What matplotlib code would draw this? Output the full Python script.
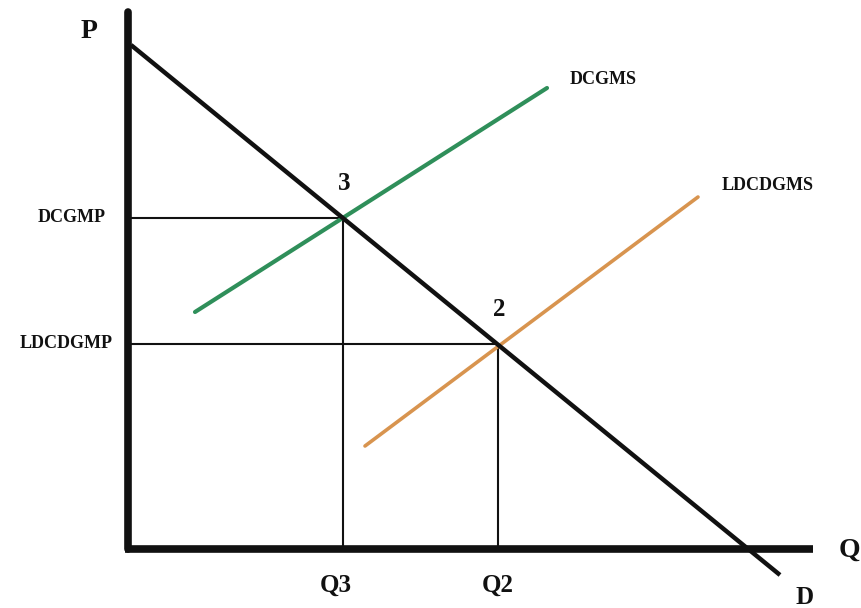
import matplotlib
matplotlib.use('Agg')
import matplotlib.pyplot as plt

# Coordenadas del dibujo (unidades de pixel, eje y hacia abajo)
eje_p = [128, 128, 12, 549]          # x0, x1, y0, y1
eje_q = [125, 813, 549, 549]

demanda_x = [131, 780]
demanda_y = [45, 575]

oferta_dc_x = [195, 547]             # DCGMS (verde)
oferta_dc_y = [312, 88]

oferta_ldc_x = [365, 698]            # LDCDGMS (naranja)
oferta_ldc_y = [446, 197]

equilibrios = ['3', '2']
eq_x = [343, 498]
eq_y = [218, 344]
etiquetas_q = ['Q3', 'Q2']
etiquetas_p = ['DCGMP', 'LDCDGMP']

plt.rcParams['font.family'] = ['Liberation Serif', 'DejaVu Serif']

fig = plt.figure(figsize=(8.62, 6.08), dpi=100)
ax = fig.add_axes([0, 0, 1, 1])
ax.set_xlim(0, 862)
ax.set_ylim(608, 0)
ax.axis('off')

negro = '#111111'

# Lineas guia de precio y cantidad
for x, y in zip(eq_x, eq_y):
    ax.plot([eje_p[0], x], [y, y], color=negro, lw=1.5, solid_capstyle='butt')
    ax.plot([x, x], [y, eje_q[2]], color=negro, lw=1.5, solid_capstyle='butt')

# Curvas de oferta
ax.plot(oferta_dc_x, oferta_dc_y, color='#2f8f5a', lw=3.0, solid_capstyle='round')
ax.plot(oferta_ldc_x, oferta_ldc_y, color='#d8944f', lw=2.6, solid_capstyle='round')

# Demanda
ax.plot(demanda_x, demanda_y, color=negro, lw=3.2, solid_capstyle='butt')

# Ejes
ax.plot(eje_p[:2], eje_p[2:], color=negro, lw=5.5, solid_capstyle='round')
ax.plot(eje_q[:2], eje_q[2:], color=negro, lw=5.5, solid_capstyle='butt')

# Textos
ax.text(89, 31, 'P', fontsize=20, fontweight='bold', color=negro, ha='center', va='center')
ax.text(849, 550, 'Q', fontsize=20, fontweight='bold', color=negro, ha='center', va='center')
ax.text(805, 597, 'D', fontsize=18, fontweight='bold', color=negro, ha='center', va='center')

for lab, x, y in zip(equilibrios, eq_x, eq_y):
    ax.text(x + 1, y - 34, lab, fontsize=18, fontweight='bold', color=negro, ha='center', va='center')
for lab, xc in zip(etiquetas_q, [336, 498]):
    ax.text(xc, 585, lab, fontsize=18, fontweight='bold', color=negro, ha='center', va='center')
for lab, y, xc in zip(etiquetas_p, eq_y, [72, 66]):
    ax.text(xc, y, lab, fontsize=13, fontweight='bold', color=negro, ha='center', va='center')

ax.text(603, 80, 'DCGMS', fontsize=13, fontweight='bold', color=negro, ha='center', va='center')
ax.text(768, 185, 'LDCDGMS', fontsize=13, fontweight='bold', color=negro, ha='center', va='center')

fig.savefig('out.png', dpi=100)
plt.close(fig)
